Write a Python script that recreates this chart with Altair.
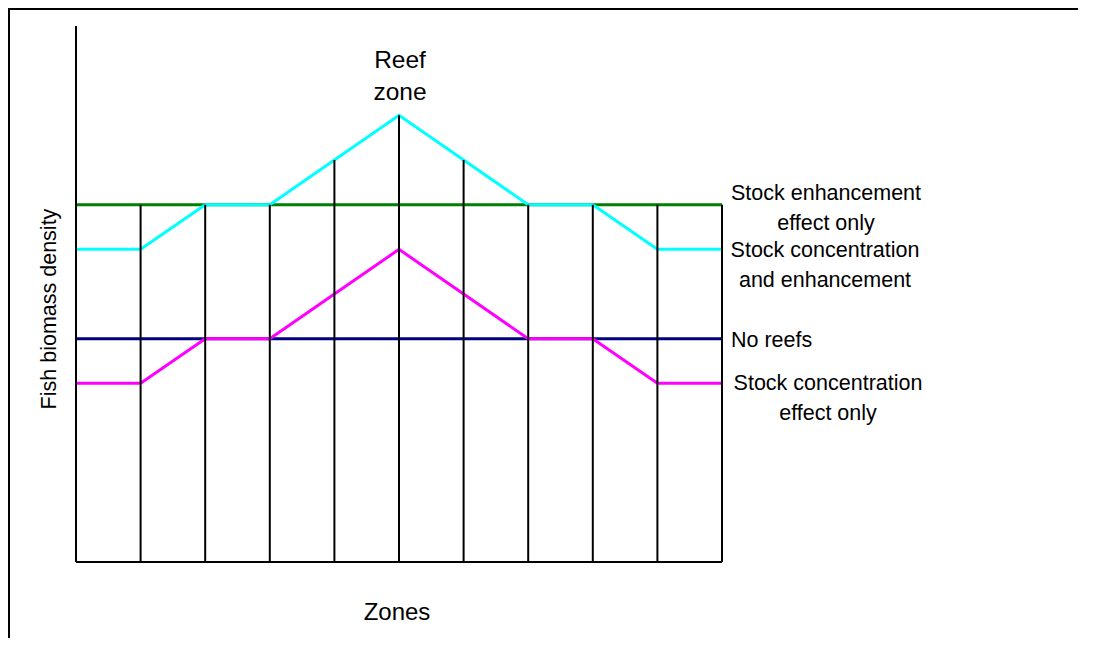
import altair as alt
import pandas as pd

# ---- data ----
zones = [0, 1, 2, 3, 4, 5, 6, 7, 8, 9, 10]
concentration_and_enhancement = [7, 7, 8, 8, 9, 10, 9, 8, 8, 7, 7]
concentration_only = [4, 4, 5, 5, 6, 7, 6, 5, 5, 4, 4]
enhancement_only = [8, 8, 8, 8, 8, 8, 8, 8, 8, 8, 8]
no_reefs = [5, 5, 5, 5, 5, 5, 5, 5, 5, 5, 5]

boundary_x = [1, 2, 3, 4, 5, 6, 7, 8, 9, 10]
boundary_top = [8, 8, 8, 9, 10, 9, 8, 8, 8, 8]

FONT = "Liberation Sans"
W, H = 646, 536
TOTAL_W, TOTAL_H = 1070, 630
PAD_L, PAD_T = 68, 18

xs = alt.Scale(domain=[0, 10], nice=False, zero=False)
ys = alt.Scale(domain=[0, 12], nice=False, zero=True)


def series_line(values, color):
    df = pd.DataFrame({"zone": zones, "v": values})
    return alt.Chart(df).mark_line(color=color, strokeWidth=3, strokeCap="butt").encode(
        x=alt.X("zone:Q", scale=xs, axis=None),
        y=alt.Y("v:Q", scale=ys, axis=None),
    )


blue = series_line(no_reefs, "#000080")
green = series_line(enhancement_only, "#008000")
magenta = series_line(concentration_only, "#FF00FF")
cyan = series_line(concentration_and_enhancement, "#00FFFF")

bdf = pd.DataFrame({"x": boundary_x, "top": boundary_top, "base": [0] * len(boundary_x)})
boundaries = alt.Chart(bdf).mark_rule(color="black", strokeWidth=2).encode(
    x=alt.X("x:Q", scale=xs, axis=None),
    y=alt.Y("base:Q", scale=ys, axis=None),
    y2="top:Q",
)

# axis lines
yaxis = alt.Chart(pd.DataFrame({"x": [0], "y0": [0], "y1": [12]})).mark_rule(
    color="black", strokeWidth=2
).encode(x=alt.X("x:Q", scale=xs, axis=None), y=alt.Y("y0:Q", scale=ys, axis=None), y2="y1:Q")
xaxis = alt.Chart(pd.DataFrame({"y": [0], "x0": [0], "x1": [10]})).mark_rule(
    color="black", strokeWidth=2
).encode(y=alt.Y("y:Q", scale=ys, axis=None), x=alt.X("x0:Q", scale=xs, axis=None), x2="x1:Q")

one = pd.DataFrame({"a": [0]})


def label(text, x, y, size=21.5, align="center", angle=0, lh=30):
    return alt.Chart(one).mark_text(
        text=text, font=FONT, fontSize=size, align=align, baseline="alphabetic",
        angle=angle, lineHeight=lh, color="black",
    ).encode(x=alt.value(x), y=alt.value(y))


texts = [
    label(["Stock enhancement", "effect only"], 750, 174),
    label(["Stock concentration", "and enhancement"], 749, 231),
    label("No reefs", 655, 321, align="left"),
    label(["Stock concentration", "effect only"], 752, 364),
    label(["Reef", "zone"], 324, 42, size=24.5, lh=32),
    label("Zones", 321, 594, size=24),
    label("Fish biomass density", -20, 283, angle=270),
]

# outer frame (top and left edges; right and bottom lie outside the window)
frame_top = alt.Chart(one).mark_rule(color="black", strokeWidth=2).encode(
    x=alt.value(-PAD_L), x2=alt.value(TOTAL_W - PAD_L), y=alt.value(1 - PAD_T)
)
frame_left = alt.Chart(one).mark_rule(color="black", strokeWidth=2).encode(
    x=alt.value(1 - PAD_L), y=alt.value(-PAD_T), y2=alt.value(TOTAL_H - PAD_T)
)

chart = alt.layer(
    blue, green, magenta, cyan, boundaries, yaxis, xaxis, *texts, frame_top, frame_left
).properties(
    width=W, height=H,
    autosize=alt.AutoSizeParams(type="none"),
    padding={"left": PAD_L, "top": PAD_T, "right": TOTAL_W - PAD_L - W, "bottom": TOTAL_H - PAD_T - H},
    background="white",
).configure_view(stroke=None)

chart.save("out.html", embed_options={"renderer": "svg", "actions": False})
